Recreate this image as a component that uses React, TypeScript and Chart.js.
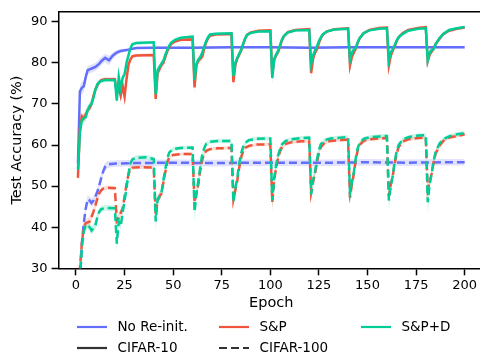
import React, { useEffect, useRef } from "react";
import { Chart, registerables } from "chart.js";

Chart.register(...registerables);

const xTicks = [0, 25, 50, 75, 100, 125, 150, 175, 200];
const yTicks = [30, 40, 50, 60, 70, 80, 90];

// [epoch, mean accuracy, spread]
const noReinitC10 = [
  [1, 55.5, 1], [2, 73, 1.5], [3, 73.9, 1.5], [4, 74.3, 1.5], [5, 76.5, 1.2], [6, 78.2, 1], [7, 78.4, 1],
  [9, 78.8, 1], [10, 79, 1], [12, 79.8, 1], [13, 80.4, 1], [15, 81.2, 1], [17, 80.6, 1.2], [19, 81.8, 0.8],
  [21, 82.5, 0.6], [23, 82.9, 0.5], [26, 83.1, 0.4], [31, 83.6, 0.3], [40, 83.7, 0.3], [60, 83.7, 0.3],
  [80, 83.8, 0.3], [100, 83.8, 0.3], [120, 83.7, 0.3], [140, 83.8, 0.3], [160, 83.8, 0.3], [180, 83.8, 0.3],
  [200, 83.8, 0.3],
];
const noReinitC100 = [
  [1, 18, 1], [2, 26, 1], [3, 36, 1], [4, 41, 1], [5, 44.5, 1], [6, 46.8, 1], [7, 46.5, 1], [8, 45.9, 1],
  [9, 46.5, 1], [10, 47.5, 1], [11, 48.6, 1], [12, 50.2, 1], [13, 52, 1], [14, 53.6, 1], [15, 54.7, 1],
  [16, 55.2, 0.9], [18, 55.4, 0.8], [21, 55.5, 0.8], [30, 55.6, 0.8], [50, 55.7, 0.8], [70, 55.6, 0.8],
  [90, 55.7, 0.8], [110, 55.7, 0.8], [130, 55.7, 0.8], [150, 55.8, 0.8], [170, 55.7, 0.8], [190, 55.8, 0.8],
  [200, 55.8, 0.8],
];
const spC10 = [
  [1, 52, 1.5], [2, 64, 1.5], [3, 67, 1], [4, 66.5, 1], [5, 67.5, 1], [6, 68.5, 1], [7, 69, 1], [8, 70, 1],
  [9, 72, 1], [10, 73.5, 0.8], [11, 74.5, 0.8], [12, 75.3, 0.6], [13, 75.8, 0.5], [15, 76, 0.5], [20, 76, 0.5],
  [21, 72.5, 1], [22, 74, 1], [23, 72, 1], [24, 74.5, 1], [25, 71.8, 1], [26, 76, 1], [27, 79.5, 0.8],
  [28, 80.8, 0.6], [29, 81.6, 0.5], [31, 81.8, 0.4], [40, 81.9, 0.4],
  [41, 71.2, 1.5], [42, 77.5, 1], [43, 78.5, 0.8], [44, 79.5, 0.8], [45, 80, 0.8], [46, 81.5, 0.6],
  [47, 82.8, 0.5], [48, 83.8, 0.5], [49, 84.6, 0.4], [51, 85.2, 0.4], [54, 85.6, 0.3], [60, 85.7, 0.3],
  [61, 74, 1.5], [62, 79.5, 1], [63, 80.5, 0.8], [64, 81, 0.7], [65, 81.5, 0.6], [66, 83.5, 0.5],
  [67, 85, 0.5], [68, 86, 0.4], [69, 86.6, 0.3], [72, 86.9, 0.3], [80, 87, 0.3],
  [81, 75.3, 1.5], [82, 79.5, 1], [83, 81, 0.8], [84, 82, 0.7], [85, 83, 0.6], [86, 84.5, 0.5],
  [87, 85.8, 0.4], [88, 86.8, 0.3], [90, 87.4, 0.3], [94, 87.8, 0.3], [100, 87.9, 0.3],
  [101, 77, 1.5], [102, 80.8, 1], [103, 81.8, 0.8], [104, 82.6, 0.7], [105, 84, 0.6], [106, 85.5, 0.5],
  [107, 86.5, 0.4], [109, 87.5, 0.3], [113, 88, 0.3], [120, 88.2, 0.3],
  [121, 77.5, 1.5], [122, 81, 1], [123, 82.5, 0.8], [124, 83.3, 0.7], [125, 84.8, 0.6], [126, 86, 0.5],
  [127, 86.8, 0.4], [129, 87.6, 0.3], [133, 88.2, 0.3], [140, 88.4, 0.3],
  [141, 79.4, 1.5], [142, 81.5, 1], [143, 82.5, 0.8], [144, 83.5, 0.7], [145, 85, 0.6], [146, 86, 0.5],
  [148, 87.2, 0.4], [151, 88, 0.3], [156, 88.5, 0.3], [160, 88.6, 0.3],
  [161, 79.4, 1.5], [162, 81.8, 1], [163, 83, 0.8], [164, 84, 0.7], [165, 85.3, 0.6], [166, 86.2, 0.5],
  [168, 87.2, 0.4], [171, 88, 0.3], [176, 88.5, 0.3], [180, 88.7, 0.3],
  [181, 80.5, 1.5], [182, 82, 1], [183, 82.8, 0.8], [184, 83.5, 0.7], [185, 84.5, 0.6], [187, 85.8, 0.5],
  [189, 87, 0.4], [192, 87.8, 0.3], [196, 88.3, 0.3], [200, 88.6, 0.3],
];
const spdC10 = [
  [1, 54, 1.5], [2, 63, 1.5], [3, 66, 1], [4, 66.5, 1], [5, 66.8, 1], [6, 68.5, 1], [7, 69.5, 1], [8, 70, 1],
  [9, 71.5, 1], [10, 73.5, 0.8], [11, 74.8, 0.8], [12, 75.3, 0.6], [13, 75.6, 0.5], [15, 75.8, 0.5],
  [20, 75.8, 0.5], [21, 70.8, 1.2], [22, 76.6, 1], [23, 73.8, 1], [24, 76.4, 1], [25, 77.2, 1], [26, 80, 0.8],
  [27, 81.8, 0.6], [28, 83.5, 0.5], [29, 84.5, 0.4], [31, 84.8, 0.4], [40, 85, 0.4],
  [41, 72.4, 1.5], [42, 78.2, 1], [43, 79, 0.8], [44, 79.8, 0.8], [45, 80.5, 0.8], [46, 82, 0.6],
  [47, 83.2, 0.5], [48, 84.2, 0.5], [49, 84.9, 0.4], [51, 85.6, 0.4], [54, 86.1, 0.3], [60, 86.4, 0.3],
  [61, 75.8, 1.5], [62, 79.8, 1], [63, 80.8, 0.8], [64, 81.4, 0.7], [65, 82.5, 0.6], [66, 84, 0.5],
  [67, 85.3, 0.5], [68, 86.3, 0.4], [69, 86.9, 0.3], [72, 87.1, 0.3], [80, 87.2, 0.3],
  [81, 76.8, 1.5], [82, 80, 1], [83, 81.2, 0.8], [84, 82.2, 0.7], [85, 83.2, 0.6], [86, 84.6, 0.5],
  [87, 85.9, 0.4], [88, 86.8, 0.3], [90, 87.3, 0.3], [94, 87.6, 0.3], [100, 87.7, 0.3],
  [101, 76.3, 1.5], [102, 81, 1], [103, 82, 0.8], [104, 82.9, 0.7], [105, 84.3, 0.6], [106, 85.7, 0.5],
  [107, 86.5, 0.4], [109, 87.4, 0.3], [113, 87.9, 0.3], [120, 88, 0.3],
  [121, 79.8, 1.5], [122, 81.8, 1], [123, 83, 0.8], [124, 84, 0.7], [125, 85.3, 0.6], [126, 86.2, 0.5],
  [127, 86.9, 0.4], [129, 87.6, 0.3], [133, 88.1, 0.3], [140, 88.3, 0.3],
  [141, 80.6, 1.8], [142, 82.5, 1], [143, 83.2, 0.8], [144, 83.7, 0.7], [145, 85, 0.6], [146, 86, 0.5],
  [148, 87.2, 0.4], [151, 87.9, 0.3], [156, 88.3, 0.3], [160, 88.4, 0.3],
  [161, 80.6, 1.8], [162, 82.5, 1], [163, 83.3, 0.8], [164, 84.3, 0.7], [165, 85.4, 0.6], [166, 86.2, 0.5],
  [168, 87, 0.4], [171, 87.8, 0.3], [176, 88.3, 0.3], [180, 88.4, 0.3],
  [181, 80.6, 1.8], [182, 82.5, 1], [183, 83.1, 0.8], [184, 83.3, 0.7], [185, 84.5, 0.6], [187, 86, 0.5],
  [189, 87, 0.4], [192, 88, 0.3], [196, 88.4, 0.3], [200, 88.7, 0.3],
];
const spC100 = [
  [1, 20, 1], [2, 30, 1.5], [3, 36, 1.5], [4, 40, 1.2], [5, 41, 1], [6, 41.2, 1], [7, 41.4, 1], [8, 42.5, 1],
  [9, 43.8, 1], [10, 45.3, 1], [11, 47, 0.8], [12, 48.3, 0.8], [13, 49, 0.6], [14, 49.4, 0.5], [16, 49.6, 0.5],
  [20, 49.5, 0.5], [21, 41.5, 1.5], [22, 42.2, 1.2], [23, 43.5, 1], [24, 44.5, 1], [25, 47.5, 1],
  [26, 50.5, 0.8], [27, 52.8, 0.6], [28, 54.2, 0.5], [29, 54.5, 0.5], [33, 54.6, 0.4], [40, 54.5, 0.4],
  [41, 43, 1.5], [42, 46.5, 1], [43, 47.5, 1], [44, 48.2, 0.8], [45, 51, 0.8], [46, 53.5, 0.7],
  [47, 55.8, 0.6], [48, 57, 0.5], [50, 57.6, 0.4], [54, 57.8, 0.4], [60, 57.8, 0.4],
  [61, 46.1, 1.5], [62, 48.2, 1.2], [63, 50.5, 1], [64, 54, 0.8], [65, 56.5, 0.7], [66, 57.8, 0.6],
  [67, 58.6, 0.5], [69, 59, 0.4], [73, 59.2, 0.4], [80, 59.3, 0.4],
  [81, 46.8, 1.5], [82, 49, 1.2], [83, 51.3, 1], [84, 54.5, 0.8], [85, 57, 0.7], [86, 58.5, 0.6],
  [87, 59.3, 0.5], [89, 59.8, 0.4], [93, 60.1, 0.4], [100, 60.2, 0.4],
  [101, 46.1, 2.5], [102, 51.5, 1.5], [103, 54.5, 1], [104, 56.8, 0.8], [105, 58.5, 0.7], [106, 59.5, 0.6],
  [108, 60.3, 0.5], [111, 60.7, 0.4], [116, 60.9, 0.4], [120, 61, 0.4],
  [121, 48.5, 1.5], [122, 51, 1.2], [123, 53, 1], [124, 55.8, 0.8], [125, 58, 0.7], [126, 59.5, 0.6],
  [128, 60.6, 0.5], [131, 61, 0.4], [136, 61.2, 0.4], [140, 61.3, 0.4],
  [141, 47.2, 1.5], [142, 50.5, 1.2], [143, 53, 1], [144, 56.5, 0.8], [145, 58.8, 0.7], [146, 60, 0.6],
  [148, 61, 0.5], [151, 61.4, 0.4], [156, 61.6, 0.4], [160, 61.7, 0.4],
  [161, 47.6, 1.5], [162, 50.5, 1.2], [163, 52.5, 1], [164, 55.5, 0.8], [165, 57.8, 0.7], [166, 59.5, 0.6],
  [168, 60.8, 0.5], [171, 61.4, 0.4], [176, 61.7, 0.4], [180, 61.8, 0.4],
  [181, 49.2, 2], [182, 51, 1.2], [183, 53, 1], [184, 55.8, 0.8], [185, 57.8, 0.7], [187, 59.8, 0.6],
  [189, 61, 0.5], [192, 61.8, 0.4], [196, 62.2, 0.4], [200, 62.6, 0.4],
];
const spdC100 = [
  [1, 18, 1], [2, 27, 1.5], [3, 35, 1.5], [4, 39, 1.2], [5, 40.3, 1], [6, 40.6, 1], [7, 40, 1], [8, 39.2, 1],
  [9, 39.8, 1], [10, 40.5, 1], [11, 42.5, 1], [12, 43.8, 0.8], [13, 44.4, 0.8], [15, 44.7, 0.7],
  [20, 44.6, 0.7], [21, 36, 2], [22, 41.4, 1.2], [23, 40.3, 1], [24, 43.5, 1], [25, 46.5, 1], [26, 49.5, 0.8],
  [27, 53, 0.8], [28, 55.5, 0.7], [29, 56.5, 0.6], [31, 56.9, 0.6], [36, 57, 0.6], [40, 56.6, 0.6],
  [41, 41.4, 2.5], [42, 46.8, 1.2], [43, 47.5, 1], [44, 48.5, 0.8], [45, 51.5, 0.8], [46, 54.2, 0.7],
  [47, 56.8, 0.6], [48, 58.2, 0.5], [50, 59, 0.5], [54, 59.3, 0.5], [60, 59.4, 0.5],
  [61, 43.7, 2.5], [62, 48.4, 1.2], [63, 51.5, 1], [64, 54.8, 0.8], [65, 57.8, 0.7], [66, 59.2, 0.6],
  [67, 60.3, 0.5], [69, 60.8, 0.5], [73, 61, 0.5], [80, 61, 0.5],
  [81, 46.1, 2], [82, 49.5, 1.2], [83, 52, 1], [84, 55.5, 0.8], [85, 58, 0.7], [86, 59.5, 0.6],
  [87, 60.5, 0.5], [89, 61.2, 0.5], [93, 61.5, 0.5], [100, 61.6, 0.5],
  [101, 46.5, 2], [102, 52, 1.2], [103, 55.2, 1], [104, 57.5, 0.8], [105, 59, 0.7], [106, 60.2, 0.6],
  [108, 61, 0.5], [111, 61.4, 0.5], [116, 61.7, 0.5], [120, 61.8, 0.5],
  [121, 48, 2], [122, 51.5, 1.2], [123, 53.5, 1], [124, 56.5, 0.8], [125, 58.8, 0.7], [126, 60.2, 0.6],
  [128, 61.2, 0.5], [131, 61.6, 0.5], [136, 61.8, 0.5], [140, 61.9, 0.5],
  [141, 48.4, 2.5], [142, 51, 1.2], [143, 53.5, 1], [144, 57, 0.8], [145, 59.3, 0.7], [146, 60.5, 0.6],
  [148, 61.5, 0.5], [151, 61.9, 0.5], [156, 62.1, 0.5], [160, 62.2, 0.5],
  [161, 46.5, 2.5], [162, 50, 1.2], [163, 52.5, 1], [164, 56, 0.8], [165, 58.5, 0.7], [166, 60, 0.6],
  [168, 61.3, 0.5], [171, 61.9, 0.5], [176, 62.3, 0.5], [180, 62.4, 0.5],
  [181, 46.1, 3], [182, 50.5, 1.2], [183, 53, 1], [184, 56, 0.8], [185, 58.2, 0.7], [187, 60.3, 0.6],
  [189, 61.4, 0.5], [192, 62.1, 0.5], [196, 62.6, 0.5], [200, 62.9, 0.5],
];

const methodLabels = ["No Re-init.", "S&P", "S&P+D"];
const datasetLabels = ["CIFAR-10", "CIFAR-100"];

const BLUE = [99, 110, 250];
const RED = [239, 85, 59];
const GREEN = [0, 204, 150];
const FONT = "'DejaVu Sans', sans-serif";
const DASH = [8, 4];

const rgba = (c: number[], a: number) => `rgba(${c[0]},${c[1]},${c[2]},${a})`;

const seriesList = [
  { data: spdC100, color: GREEN, dashed: true, order: 2 },
  { data: spdC10, color: GREEN, dashed: false, order: 3 },
  { data: spC100, color: RED, dashed: true, order: 4 },
  { data: spC10, color: RED, dashed: false, order: 5 },
  { data: noReinitC100, color: BLUE, dashed: true, order: 6 },
  { data: noReinitC10, color: BLUE, dashed: false, order: 7 },
];

const frameAndLegend = {
  id: "frameAndLegend",
  afterDraw(chart: any) {
    const { ctx, chartArea } = chart;
    ctx.save();
    ctx.strokeStyle = "#000";
    ctx.lineWidth = 1.5;
    ctx.beginPath();
    ctx.moveTo(chartArea.left, chartArea.top);
    ctx.lineTo(chartArea.right, chartArea.top);
    ctx.lineTo(chartArea.right, chartArea.bottom);
    ctx.stroke();

    const cols = [77, 219, 361];
    const rows = [327, 348];
    const handle = 30;
    const gap = 10.5;
    const items = [
      { text: methodLabels[0], color: rgba(BLUE, 1), dash: [] as number[], col: 0, row: 0 },
      { text: methodLabels[1], color: rgba(RED, 1), dash: [], col: 1, row: 0 },
      { text: methodLabels[2], color: rgba(GREEN, 1), dash: [], col: 2, row: 0 },
      { text: datasetLabels[0], color: "#333", dash: [], col: 0, row: 1 },
      { text: datasetLabels[1], color: "#333", dash: DASH, col: 1, row: 1 },
    ];
    ctx.font = `13.5px ${FONT}`;
    ctx.textBaseline = "middle";
    ctx.textAlign = "left";
    for (const it of items) {
      const x = cols[it.col];
      const y = rows[it.row];
      ctx.strokeStyle = it.color;
      ctx.lineWidth = 2.2;
      ctx.setLineDash(it.dash);
      ctx.beginPath();
      ctx.moveTo(x, y);
      ctx.lineTo(x + handle, y);
      ctx.stroke();
      ctx.setLineDash([]);
      ctx.fillStyle = "#000";
      ctx.fillText(it.text, x + handle + gap, y);
    }
    ctx.restore();
  },
};

export default function App() {
  const ref = useRef<HTMLCanvasElement | null>(null);

  useEffect(() => {
    if (!ref.current) return;
    const datasets: any[] = [];
    for (const s of seriesList) {
      datasets.push({
        data: s.data.map((p) => ({ x: p[0], y: p[1] + p[2] })),
        borderWidth: 0,
        pointRadius: 0,
        fill: false,
        order: 20,
      });
      datasets.push({
        data: s.data.map((p) => ({ x: p[0], y: p[1] - p[2] })),
        borderWidth: 0,
        pointRadius: 0,
        fill: "-1",
        backgroundColor: rgba(s.color, 0.2),
        order: 20,
      });
    }
    for (const s of seriesList) {
      datasets.push({
        data: s.data.map((p) => ({ x: p[0], y: p[1] })),
        borderColor: rgba(s.color, 1),
        borderWidth: 2.5,
        borderDash: s.dashed ? DASH : [],
        pointRadius: 0,
        fill: false,
        tension: 0,
        order: s.order,
      });
    }

    const chart = new Chart(ref.current, {
      type: "line",
      data: { datasets },
      options: {
        animation: false,
        responsive: false,
        devicePixelRatio: 1,
        layout: { padding: { left: 9, top: 3, right: 0, bottom: 43.3 } },
        plugins: { legend: { display: false }, tooltip: { enabled: false } },
        scales: {
          x: {
            type: "linear",
            min: -8.95,
            max: 209.95,
            afterBuildTicks: (scale: any) => {
              scale.ticks = xTicks.map((v) => ({ value: v }));
            },
            afterFit: (scale: any) => {
              scale.height = 43.4;
            },
            grid: { drawOnChartArea: false, drawTicks: true, tickLength: 7, tickWidth: 1.5, tickColor: "#000" },
            border: { display: true, color: "#000", width: 1.5 },
            ticks: { color: "#000", font: { family: FONT, size: 13 }, padding: 3, maxRotation: 0 },
            title: { display: true, text: "Epoch", color: "#000", font: { family: FONT, size: 14.5 }, padding: 0 },
          },
          y: {
            type: "linear",
            min: 30,
            max: 92.42,
            afterBuildTicks: (scale: any) => {
              scale.ticks = yTicks.map((v) => ({ value: v }));
            },
            afterFit: (scale: any) => {
              scale.width = 49.6;
            },
            grid: { drawOnChartArea: false, drawTicks: true, tickLength: 7, tickWidth: 1.5, tickColor: "#000" },
            border: { display: true, color: "#000", width: 1.5 },
            ticks: { color: "#000", font: { family: FONT, size: 13 }, padding: 4 },
            title: { display: true, text: "Test Accuracy (%)", color: "#000", font: { family: FONT, size: 14.5 }, padding: 0 },
          },
        },
      },
      plugins: [frameAndLegend],
    });
    return () => chart.destroy();
  }, []);

  return (
    <div style={{ position: "absolute", left: 0, top: 0, width: 480, height: 355, overflow: "hidden", background: "#fff" }}>
      <canvas ref={ref} width={484} height={355} style={{ display: "block" }} />
    </div>
  );
}
